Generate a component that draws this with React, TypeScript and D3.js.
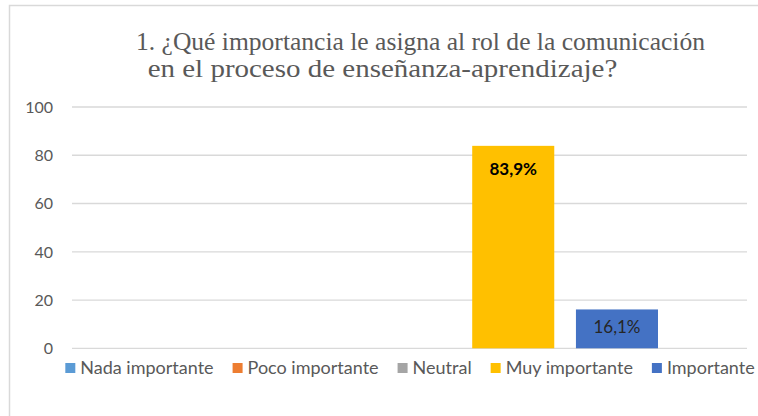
import React, { useEffect, useRef } from "react";
import * as d3 from "d3";

const series = ["Nada importante", "Poco importante", "Neutral", "Muy importante", "Importante"];
const values = [0, 0, 0, 83.9, 16.1];
const valueLabels = ["", "", "", "83,9%", "16,1%"];
const colors = ["#5b9bd5", "#ed7d31", "#a5a5a5", "#ffc000", "#4472c4"];
const yTicks = [0, 20, 40, 60, 80, 100];
const titleLines = ["1. ¿Qué importancia le asigna al rol de la comunicación", "en el proceso de enseñanza-aprendizaje?"];

const W = 758;
const H = 416;
const TITLE_FONT = '"Liberation Serif", "DejaVu Serif", "Times New Roman", serif';

export default function App() {
  const ref = useRef<SVGSVGElement>(null);

  useEffect(() => {
    const svg = d3.select(ref.current);
    svg.selectAll("*").remove();

    const plotL = 72, plotR = 747, plotT = 107, plotB = 348.3;
    const y = d3.scaleLinear().domain([0, 100]).range([plotB, plotT]);
    const x = d3.scaleBand<string>().domain(series).range([plotL, plotR]).paddingInner(0.209).paddingOuter(0.858);

    svg.append("rect").attr("x", 0).attr("y", 0).attr("width", W).attr("height", H).attr("fill", "#fff");
    svg.append("rect").attr("x", 9.5).attr("y", 5.5).attr("width", W + 20).attr("height", H + 20)
      .attr("fill", "none").attr("stroke", "#d9d9d9").attr("stroke-width", 1.5);

    // title
    const tStart = [136, 147.7];
    const tEnd = [705, 617.3];
    const tb = [50, 77.3];
    titleLines.forEach((t, i) => {
      svg.append("text").attr("x", tStart[i]).attr("y", tb[i]).attr("text-anchor", "start")
        .style("font-family", TITLE_FONT).style("font-size", "24.5px")
        .attr("textLength", tEnd[i] - tStart[i]).attr("lengthAdjust", "spacingAndGlyphs")
        .attr("fill", "#595959").text(t);
    });

    svg.append("g").selectAll("line").data(yTicks).join("line")
      .attr("x1", plotL).attr("x2", plotR).attr("y1", d => y(d)).attr("y2", d => y(d))
      .attr("stroke", "#d9d9d9").attr("stroke-width", 1.3);

    svg.append("g").selectAll("text").data(yTicks).join("text")
      .attr("x", 53).attr("y", d => y(d)).attr("dy", "0.36em").attr("text-anchor", "end")
      .attr("font-family", "Lato, sans-serif").attr("font-size", 16).attr("fill", "#595959")
      .text(d => String(d));

    const data = series.map((s, i) => ({ s, v: values[i], label: valueLabels[i], c: colors[i] }));
    svg.append("g").selectAll("rect").data(data.filter(d => d.v > 0)).join("rect")
      .attr("x", d => x(d.s)!).attr("width", x.bandwidth())
      .attr("y", d => y(d.v)).attr("height", d => y(0) - y(d.v)).attr("fill", d => d.c);

    svg.append("g").selectAll("text").data(data.filter(d => d.v > 0)).join("text")
      .attr("x", d => x(d.s)! + x.bandwidth() / 2)
      .attr("y", d => Math.min(y(d.v) + 23, (y(d.v) + y(0)) / 2 - 1.5))
      .attr("dy", "0.36em").attr("text-anchor", "middle")
      .attr("font-family", "Lato, sans-serif").attr("font-size", 17)
      .attr("font-weight", d => (d.c === "#ffc000" ? 700 : 400))
      .attr("fill", d => (d.c === "#ffc000" ? "#000" : "#262626"))
      .text(d => d.label);

    // legend
    const lg = svg.append("g");
    const items = lg.selectAll("g").data(data).join("g");
    items.append("rect").attr("width", 10).attr("height", 10).attr("y", 363).attr("fill", d => d.c);
    const texts = items.append("text").attr("y", 374)
      .attr("font-family", "Lato, sans-serif").attr("font-size", 18).attr("fill", "#595959")
      .text(d => d.s);
    const widths: number[] = [];
    texts.each(function () { widths.push((this as SVGTextElement).getComputedTextLength()); });
    const markerGap = 5, itemGap = 19;
    const itemW = widths.map(w => 10 + markerGap + w);
    const total = d3.sum(itemW) + itemGap * (itemW.length - 1);
    let cx = 410 - total / 2;
    items.each(function (_d, i) {
      d3.select(this).attr("transform", `translate(${cx},0)`);
      d3.select(this).select("text").attr("x", 10 + markerGap);
      cx += itemW[i] + itemGap;
    });
  }, []);

  return (
    <svg ref={ref} width={W} height={H} style={{ position: "absolute", left: 0, top: 0 }} />
  );
}
